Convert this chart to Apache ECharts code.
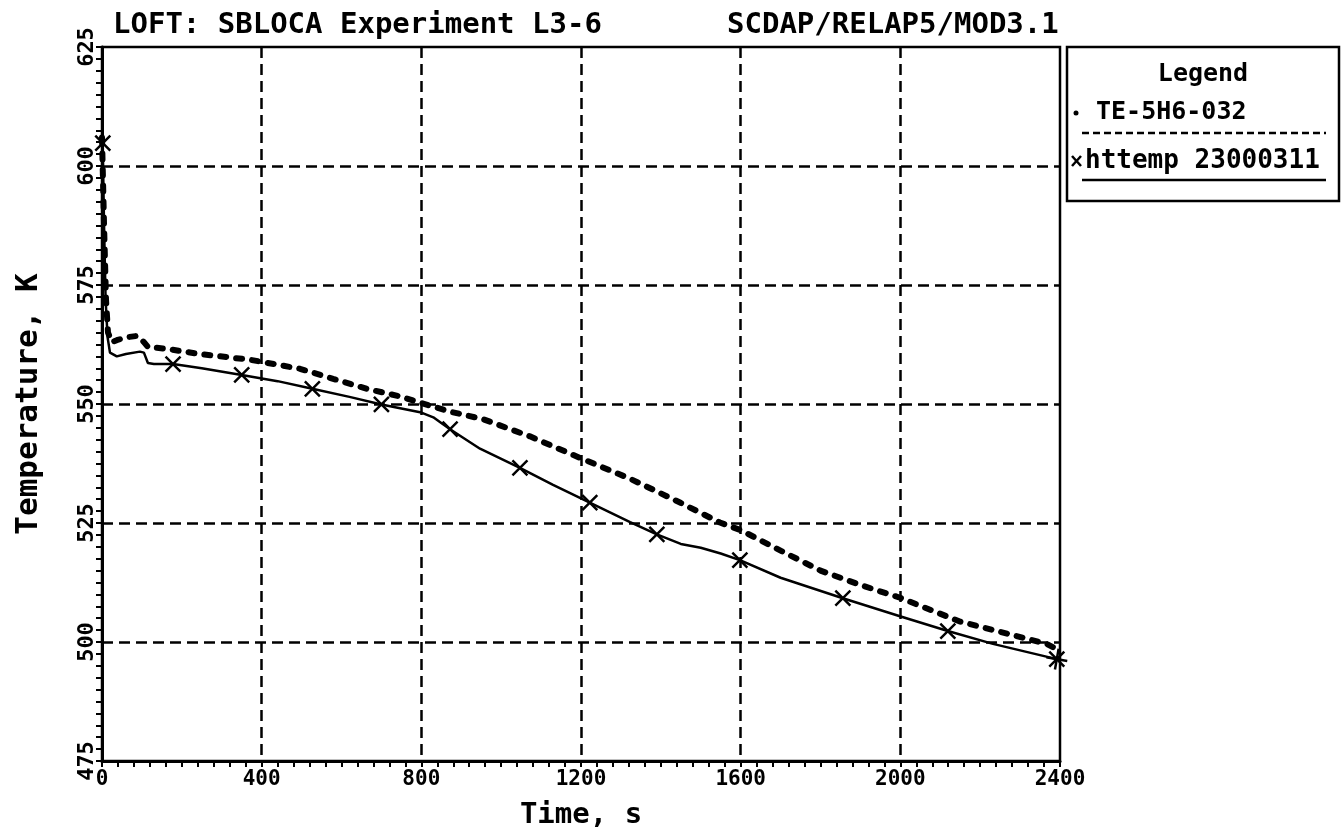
<!DOCTYPE html>
<html>
<head>
<meta charset="utf-8">
<script src="https://cdn.jsdelivr.net/npm/echarts@6/dist/echarts.min.js"></script>
<style>
  html, body { margin: 0; padding: 0; background: #fff; }
  #chart { width: 1344px; height: 835px; }
</style>
</head>
<body>
<div id="chart"></div>
<script>
// measured data, TE-5H6-032
var expTime = [0, 5, 10, 15, 25, 37, 60, 88, 105, 115, 162, 245, 371, 496, 579, 663, 746, 796, 872, 955, 1072, 1197, 1323, 1448, 1548, 1600, 1700, 1800, 1899, 1999, 2149, 2275, 2367, 2392];
var expTemp = [606, 588, 572, 565, 563, 563.4, 564, 564.3, 563, 562, 561.6, 560.5, 559.3, 557.4, 555.3, 553.2, 551.6, 550.3, 548.4, 546.8, 543.2, 538.7, 534.3, 529.3, 525.1, 523.5, 519.2, 515, 512, 509.3, 504.3, 501.6, 499.6, 498.5];

// calculation, httemp 23000311
var calcTime = [0, 2, 5, 9, 14, 20, 37, 60, 95, 105, 115, 130, 178, 250, 350, 440, 527, 620, 700, 800, 830, 850, 872, 947, 1047, 1130, 1222, 1323, 1390, 1450, 1500, 1550, 1598, 1700, 1856, 1999, 2119, 2232, 2392];
var calcTemp = [606, 604, 588, 572, 564, 560.8, 560, 560.5, 561, 560.8, 558.6, 558.4, 558.4, 557.5, 556.1, 554.8, 553.2, 551.5, 549.9, 548.2, 547.2, 546, 544.7, 540.6, 536.6, 533, 529.3, 525.2, 522.6, 520.6, 519.8, 518.6, 517.2, 513.5, 509.2, 505.4, 502.3, 499.6, 496.4];

// x markers on the calculation curve
var markTime = [2, 178, 350, 527, 700, 872, 1047, 1222, 1390, 1598, 1856, 2119, 2392];
var markTemp = [604.8, 558.4, 556.1, 553.2, 549.9, 544.7, 536.6, 529.3, 522.6, 517.2, 509.2, 502.3, 496.4];

var xTicks = [0, 400, 800, 1200, 1600, 2000, 2400];
var yTicks = [475, 500, 525, 550, 575, 600, 625];

function pairs(a, b) {
    return a.map(function (v, i) { return [v, b[i]]; });
}

var FONT = 'DejaVu Sans Mono';
var CROSS = 'path://M0,0L10,10M10,0L0,10';
var markStyle = { color: 'transparent', borderColor: '#000', borderWidth: 2.5, opacity: 1 };

var myChart = echarts.init(document.getElementById('chart'));

var option = {
    backgroundColor: '#fff',
    animation: false,
    title: [
        {
            text: 'LOFT: SBLOCA Experiment L3-6',
            left: 108, top: 6,
            textStyle: { fontFamily: FONT, fontSize: 29, fontWeight: 'bold', color: '#000' }
        },
        {
            text: 'SCDAP/RELAP5/MOD3.1',
            left: 722, top: 6,
            textStyle: { fontFamily: FONT, fontSize: 29, fontWeight: 'bold', color: '#000' }
        }
    ],
    grid: {
        left: 102, top: 47, width: 958, height: 721,
        show: true, borderColor: '#000', borderWidth: 2.5
    },
    xAxis: {
        type: 'value',
        min: xTicks[0], max: xTicks[xTicks.length - 1], interval: 400,
        name: 'Time, s',
        nameLocation: 'middle', nameGap: 40,
        nameTextStyle: { fontFamily: FONT, fontSize: 29, fontWeight: 'bold', color: '#000' },
        axisLine: { lineStyle: { color: '#000', width: 3 } },
        axisTick: { show: true, length: 6, lineStyle: { color: '#000', width: 2 } },
        minorTick: { show: true, splitNumber: 10, length: 6, lineStyle: { color: '#000', width: 2 } },
        axisLabel: { fontFamily: FONT, fontSize: 21, fontWeight: 'bold', color: '#000', margin: 8,
                     formatter: function (v) { return String(v); } },
        splitLine: { show: true, showMinLine: false, showMaxLine: false,
                     lineStyle: { color: '#000', width: 2.5, type: [11, 6] } }
    },
    yAxis: {
        type: 'value',
        min: yTicks[0], max: yTicks[yTicks.length - 1], interval: 25,
        name: 'Temperature, K',
        nameLocation: 'middle', nameGap: 58,
        nameTextStyle: { fontFamily: FONT, fontSize: 31, fontWeight: 'bold', color: '#000' },
        axisLine: { lineStyle: { color: '#000', width: 3 } },
        axisTick: { show: true, length: 6, lineStyle: { color: '#000', width: 2 } },
        minorTick: { show: true, splitNumber: 10, length: 6, lineStyle: { color: '#000', width: 2 } },
        axisLabel: { fontFamily: FONT, fontSize: 22, fontWeight: 'bold', color: '#000', margin: 4, rotate: 90,
                     formatter: function (v) { return String(v); } },
        splitLine: { show: true, showMinLine: false, showMaxLine: false,
                     lineStyle: { color: '#000', width: 2.5, type: [11, 6] } }
    },
    series: [
        {
            name: 'TE-5H6-032',
            type: 'line',
            data: pairs(expTime, expTemp),
            showSymbol: false,
            z: 3,
            lineStyle: { color: '#000', width: 6, type: [6, 10], cap: 'round' }
        },
        {
            name: 'httemp 23000311',
            type: 'line',
            data: pairs(calcTime, calcTemp),
            showSymbol: false,
            z: 4,
            lineStyle: { color: '#000', width: 2.5 }
        },
        {
            name: 'httemp 23000311',
            type: 'scatter',
            data: pairs(markTime, markTemp),
            symbol: CROSS,
            symbolSize: 15,
            z: 5,
            itemStyle: markStyle
        },
        {
            // second stroke on the last marker, it looks like a star there
            type: 'scatter',
            data: pairs(markTime.slice(-1), markTemp.slice(-1)),
            symbol: CROSS,
            symbolSize: 15,
            symbolRotate: 35,
            z: 5,
            itemStyle: markStyle
        }
    ],
    graphic: [
        // legend box
        { type: 'rect', shape: { x: 1067, y: 47, width: 272, height: 154 },
          style: { fill: 'none', stroke: '#000', lineWidth: 2.5 } },
        { type: 'text', x: 1203, y: 74,
          style: { text: 'Legend', font: 'bold 25px "DejaVu Sans Mono"', fill: '#000', align: 'center', verticalAlign: 'middle' } },
        { type: 'circle', shape: { cx: 1076, cy: 113, r: 2.5 }, style: { fill: '#000' } },
        { type: 'text', x: 1096, y: 112,
          style: { text: 'TE-5H6-032', font: 'bold 25px "DejaVu Sans Mono"', fill: '#000', verticalAlign: 'middle' } },
        { type: 'line', shape: { x1: 1082, y1: 133, x2: 1326, y2: 133 },
          style: { stroke: '#000', lineWidth: 2.5, lineDash: [7, 4] } },
        { type: 'polyline', shape: { points: [[1072, 156], [1081, 166]] }, style: { stroke: '#000', lineWidth: 2.5 } },
        { type: 'polyline', shape: { points: [[1081, 156], [1072, 166]] }, style: { stroke: '#000', lineWidth: 2.5 } },
        { type: 'text', x: 1085, y: 161,
          style: { text: 'httemp 23000311', font: 'bold 26px "DejaVu Sans Mono"', fill: '#000', verticalAlign: 'middle' } },
        { type: 'line', shape: { x1: 1082, y1: 180, x2: 1326, y2: 180 },
          style: { stroke: '#000', lineWidth: 2.5 } }
    ]
};

myChart.setOption(option);
</script>
</body>
</html>
